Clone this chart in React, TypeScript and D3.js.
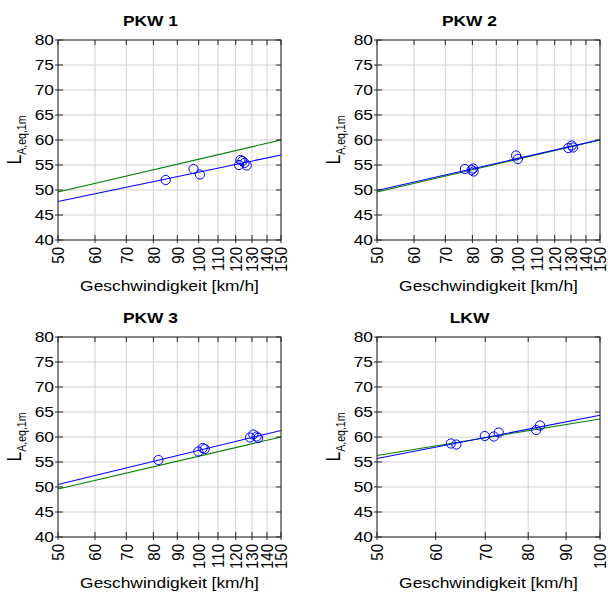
import React from 'react';
import * as d3 from 'd3';

// speeds [km/h] and levels [dB]
const pkw1Speed = [85, 97.5, 100.6, 122, 122.8, 124, 125.3, 126.7];
const pkw1Level = [52.0, 54.2, 53.1, 55.0, 56.0, 55.8, 55.4, 54.9];
const pkw1Fit = [47.7, 57.0];
const pkw1Ref = [49.6, 60.0];

const pkw2Speed = [77.1, 79.7, 80.3, 80.5, 99.2, 100.1, 128.3, 130.5, 131.4];
const pkw2Level = [54.2, 54.0, 54.3, 53.7, 56.9, 56.2, 58.4, 58.9, 58.5];
const pkw2Fit = [49.9, 60.05];
const pkw2Ref = [49.6, 60.0];

const pkw3Speed = [82, 99.8, 102, 103, 128.8, 130.9, 133, 134];
const pkw3Level = [55.4, 57.1, 57.8, 57.6, 59.9, 60.5, 60.1, 59.8];
const pkw3Fit = [50.5, 61.3];
const pkw3Ref = [49.6, 60.0];

const lkwSpeed = [62.9, 64.0, 69.9, 71.9, 73.0, 82.0, 83.0];
const lkwLevel = [58.7, 58.5, 60.2, 60.1, 60.9, 61.4, 62.3];
const lkwFit = [55.7, 64.35];
const lkwRef = [56.3, 63.6];

const carTicks = [50, 60, 70, 80, 90, 100, 110, 120, 130, 140, 150];
const truckTicks = [50, 60, 70, 80, 90, 100];
const levelTicks = [40, 45, 50, 55, 60, 65, 70, 75, 80];

const FONT = '"Liberation Sans", Arial, Helvetica, sans-serif';
const FS = 15;
const SX = 1.16; // the reference text is a bit stretched horizontally

const W = 223;
const H = 200;

type PanelProps = {
  left: number;
  top: number;
  title: string;
  speeds: number[];
  levels: number[];
  fit: number[];
  ref: number[];
  ticks: number[];
};

const Panel = ({ left, top, title, speeds, levels, fit, ref, ticks }: PanelProps) => {
  const xDomain = [ticks[0], ticks[ticks.length - 1]];
  const x = d3.scaleLog().domain(xDomain).range([0, W]);
  const y = d3.scaleLinear().domain([40, 80]).range([H, 0]);
  const line = d3
    .line<[number, number]>()
    .x((d) => x(d[0]))
    .y((d) => y(d[1]));
  const fitLine: [number, number][] = xDomain.map((v, i) => [v, fit[i]]);
  const refLine: [number, number][] = xDomain.map((v, i) => [v, ref[i]]);
  const axisColor = '#262626';

  return (
    <g transform={`translate(${left},${top})`} fontFamily={FONT} fill="#000">
      {/* grid */}
      {ticks.map((t) => (
        <line key={'gx' + t} x1={x(t)} x2={x(t)} y1={0} y2={H} stroke="#d0d0d0" strokeWidth={1} />
      ))}
      {levelTicks.map((t) => (
        <line key={'gy' + t} x1={0} x2={W} y1={y(t)} y2={y(t)} stroke="#d0d0d0" strokeWidth={1} />
      ))}
      {/* fitted lines */}
      <path d={line(refLine) || ''} fill="none" stroke="#007f00" strokeWidth={1.1} />
      <path d={line(fitLine) || ''} fill="none" stroke="#0000ff" strokeWidth={1.1} />
      {/* measurements */}
      {speeds.map((s, i) => (
        <circle key={'p' + i} cx={x(s)} cy={y(levels[i])} r={4.6} fill="none" stroke="#0000ff" strokeWidth={1} />
      ))}
      {/* box */}
      <rect x={0} y={0} width={W} height={H} fill="none" stroke={axisColor} strokeWidth={1} />
      {levelTicks.map((t) => (
        <g key={'ty' + t}>
          <line x1={-3} x2={5} y1={y(t)} y2={y(t)} stroke={axisColor} />
          <line x1={W - 5} x2={W} y1={y(t)} y2={y(t)} stroke={axisColor} />
          <text
            transform={`translate(-4,${y(t)}) scale(${SX},1)`}
            textAnchor="end"
            dy="0.36em"
            fontSize={FS}
          >
            {t}
          </text>
        </g>
      ))}
      {ticks.map((t) => (
        <g key={'tx' + t}>
          <line x1={x(t)} x2={x(t)} y1={H - 5} y2={H + 3} stroke={axisColor} />
          <line x1={x(t)} x2={x(t)} y1={0} y2={5} stroke={axisColor} />
          <text
            transform={`translate(${x(t)},${H + 7}) rotate(-90) scale(1,${SX})`}
            textAnchor="end"
            dy="0.36em"
            fontSize={FS}
          >
            {t}
          </text>
        </g>
      ))}
      {/* labels */}
      <text
        transform={`translate(${W / 2 - 19},-14) scale(${SX},1)`}
        textAnchor="middle"
        fontSize={FS}
        fontWeight="bold"
      >
        {title}
      </text>
      <text
        transform={`translate(${W / 2},${H + 51}) scale(${SX},1)`}
        textAnchor="middle"
        fontSize={FS}
      >
        Geschwindigkeit [km/h]
      </text>
      <text
        transform={`translate(-37,${H / 2}) rotate(-90) scale(1,${SX})`}
        textAnchor="middle"
        fontSize={FS + 2.5}
      >
        L
        <tspan fontSize={10.5} dy={4}>
          A,eq,1m
        </tspan>
      </text>
    </g>
  );
};

export default function App() {
  return (
    <svg width={608} height={593} style={{ display: 'block', position: 'absolute', left: 0, top: 0, background: '#fff' }}>
      <Panel left={58} top={40} title="PKW 1" speeds={pkw1Speed} levels={pkw1Level} fit={pkw1Fit} ref={pkw1Ref} ticks={carTicks} />
      <Panel left={377} top={40} title="PKW 2" speeds={pkw2Speed} levels={pkw2Level} fit={pkw2Fit} ref={pkw2Ref} ticks={carTicks} />
      <Panel left={58} top={337} title="PKW 3" speeds={pkw3Speed} levels={pkw3Level} fit={pkw3Fit} ref={pkw3Ref} ticks={carTicks} />
      <Panel left={377} top={337} title="LKW" speeds={lkwSpeed} levels={lkwLevel} fit={lkwFit} ref={lkwRef} ticks={truckTicks} />
    </svg>
  );
}
